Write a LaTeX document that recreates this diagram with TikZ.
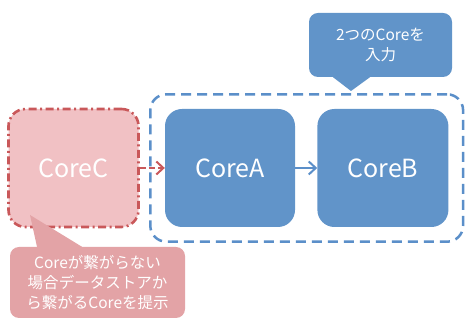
\documentclass[tikz,border=0pt]{standalone}
\usepackage{fontspec}
\setmainfont{Noto Sans CJK JP}
\usepackage{xcolor}
\definecolor{coreblue}{HTML}{6194C9}
\definecolor{groupblue}{HTML}{5B8FC9}
\definecolor{corepink}{HTML}{F1C1C4}
\definecolor{corered}{HTML}{C9585A}
\definecolor{notered}{HTML}{E3A3A6}
\usetikzlibrary{positioning,fit,arrows.meta}

\begin{document}
\begin{tikzpicture}[x=1pt, y=1pt,
  >={Straight Barb[length=7pt,width=13pt,line width=2pt]},
  corebox/.style={fill=coreblue, rounded corners=17pt,
              minimum width=130pt, minimum height=118pt,
              text=white, font=\fontsize{25}{30}\selectfont},
  note/.style={rounded corners=9pt, text=white, align=center,
              font=\fontsize{15.5}{20}\selectfont},
  arr/.style={->, line width=2.2pt}
]
  \useasboundingbox (0,0) rectangle (465,320);
  \node[corebox] (corea) at (230,152) {CoreA};
  \node[corebox, minimum width=131pt, right=22pt of corea] (coreb) {CoreB};
  \node[corebox, fill=corepink, draw=corered, line width=2.6pt,
        dash pattern=on 8pt off 3.5pt on 2pt off 3.5pt,
        left=25pt of corea] (corec) {CoreC};
  % group of the two cores
  \node[draw=groupblue, line width=2.5pt, dash pattern=on 10pt off 6pt,
        rounded corners=16pt, inner sep=14.5pt, fit=(corea)(coreb)] (group) {};
  \draw[arr, corered, dash pattern=on 6pt off 3pt] (corec) -- (corea);
  \draw[arr, groupblue] (corea) -- (coreb);
  % callouts
  \node[note, fill=coreblue, minimum width=143pt, minimum height=64pt]
    (inputnote) at (380.5,275) {2つのCoreを\\入力};
  \coordinate (inputtip) at (351,229);
  \fill[coreblue] ([xshift=-47.5pt]inputnote.south) -- (inputtip)
    -- ([xshift=-10.5pt]inputnote.south) -- cycle;
  \node[note, fill=notered, minimum width=175pt, minimum height=71pt]
    (storenote) at (97.5,37.5) {Coreが繋がらない\\場合データストアか\\ら繋がるCoreを提示};
  \coordinate (storetip) at (30,105);
  \fill[notered] ([xshift=-60.5pt]storenote.north) -- (storetip)
    -- ([xshift=-15.5pt]storenote.north) -- cycle;
\end{tikzpicture}
\end{document}
